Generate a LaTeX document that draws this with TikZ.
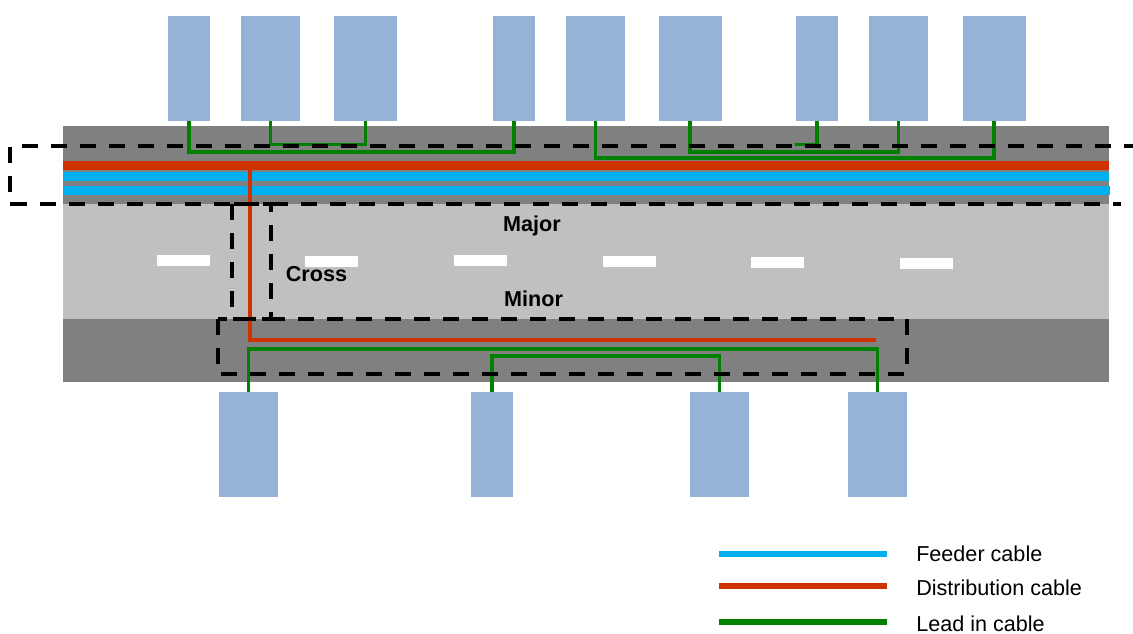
\documentclass[tikz,border=0pt]{standalone}
\usepackage{fontspec}
\setmainfont{Liberation Sans}
\definecolor{bldblue}{RGB}{149,179,215}
\definecolor{roaddark}{RGB}{128,128,128}
\definecolor{roadlight}{RGB}{192,192,192}
\definecolor{distred}{RGB}{204,51,0}
\definecolor{feedblue}{RGB}{0,176,240}
\definecolor{leadgreen}{RGB}{0,128,0}
\tikzset{
  bld/.style={fill=bldblue, draw=none, inner sep=0pt, minimum height=78.75pt},
  bldn/.style={bld, minimum width=31.5pt},
  bldm/.style={bld, minimum width=44.25pt},
  bldw/.style={bld, minimum width=47.25pt},
  lead/.style={draw=leadgreen, line width=2.4pt},
  dist/.style={draw=distred, line width=2.4pt},
  zone/.style={draw=black, line width=3pt, dash pattern=on 12pt off 9.75pt, line join=round},
  lbl/.style={font=\fontsize{16.2}{19}\selectfont\bfseries, inner sep=0pt, anchor=base},
  legtxt/.style={font=\fontsize{16.2}{19}\selectfont, inner sep=0pt, anchor=base west},
  legline/.style={line width=4.5pt},
  lane/.style={fill=white, draw=none}
}
\begin{document}
\begin{tikzpicture}[x=0.75pt, y=-0.75pt]
\useasboundingbox (0,0) rectangle (1133,633);
% roads
\fill[roaddark] (63,126) rectangle (1109,204);
\fill[roadlight] (63,204) rectangle (1109,319);
\fill[roaddark] (63,319) rectangle (1109,382);
% lane markings
\fill[lane] (157,255) rectangle (210,266);
\fill[lane] (305,256) rectangle (358,266.5);
\fill[lane] (454,255) rectangle (507,266);
\fill[lane] (603,256) rectangle (656,267);
\fill[lane] (751,257) rectangle (804,268);
\fill[lane] (900,258) rectangle (953,269);
% trunk cables
\fill[distred] (63,161) rectangle (1109,170);
\fill[feedblue] (63,172) rectangle (1109,181);
\fill[feedblue] (63,186) rectangle (1110,195);
% top buildings
\node[bldn] (b1) at (189,68.5) {};
\node[bldm] (b2) at (270.5,68.5) {};
\node[bldw] (b3) at (365.5,68.5) {};
\node[bldn] (b4) at (514,68.5) {};
\node[bldm] (b5) at (595.5,68.5) {};
\node[bldw] (b6) at (690,68.5) {};
\node[bldn] (b7) at (817,68.5) {};
\node[bldm] (b8) at (898.5,68.5) {};
\node[bldw] (b9) at (994,68.5) {};
% bottom buildings
\node[bldm] (c1) at (248.5,444.5) {};
\node[bldn] (c2) at (492,444.5) {};
\node[bldm] (c3) at (719.5,444.5) {};
\node[bldm] (c4) at (877.5,444.5) {};
% routing levels
\coordinate (ya) at (0,144.5);
\coordinate (yb) at (0,152);
\coordinate (yc) at (0,158);
\coordinate (s7) at (795,144.5);
\coordinate (ma) at (0,349);
\coordinate (mb) at (0,356);
\coordinate (d0) at (250,166);
\coordinate (d1) at (876,340);
% distribution cable branch
\draw[dist] (d0) |- (d1);
% lead-in cables top
\draw[lead] (b1.south) -- (b1.south |- yb) -| (b4.south);
\draw[lead] (b2.south) -- (b2.south |- ya) -| (b3.south);
\draw[lead] (b5.south) -- (b5.south |- yc) -| (b9.south);
\draw[lead] (b6.south) -- (b6.south |- yb) -| (b8.south);
\draw[lead] (b7.south) |- (s7);
% lead-in cables bottom
\draw[lead] (c1.north) -- (c1.north |- ma) -| (c4.north);
\draw[lead] (c2.north) -- (c2.north |- mb) -| (c3.north);
% zones
\draw[zone] (1140,145.5) -- (10,145.5) -- (10,204) -- (1121,204);
\draw[zone] (232,204) rectangle (271,319);
\draw[zone] (218,319) rectangle (907,374);
% labels
\node[lbl] (major) at (532,231.7) {Major};
\node[lbl] (cross) at (316.5,281) {Cross};
\node[lbl] (minor) at (533.5,306.7) {Minor};
% legend
\coordinate (lf0) at (719,553.5);
\coordinate (lf1) at (887,553.5);
\coordinate (ld0) at (719,586);
\coordinate (ld1) at (887,586);
\coordinate (ll0) at (719,621.5);
\coordinate (ll1) at (887,621.5);
\draw[legline, feedblue] (lf0) -- (lf1);
\draw[legline, distred] (ld0) -- (ld1);
\draw[legline, leadgreen] (ll0) -- (ll1);
\node[legtxt] (tf) at (916,561.7) {Feeder cable};
\node[legtxt] (td) at (916,595) {Distribution cable};
\node[legtxt] (tl) at (916,631.7) {Lead in cable};
\end{tikzpicture}
\end{document}
